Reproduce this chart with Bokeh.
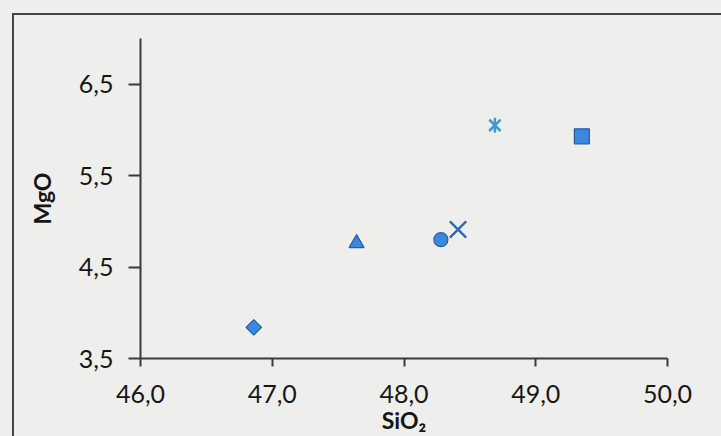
import math
from bokeh.plotting import figure
from bokeh.models import FixedTicker, Range1d, InlineStyleSheet
from bokeh.embed import file_html
from bokeh.resources import INLINE

# data (SiO2 vs MgO)
diamond_x, diamond_y = [46.86], [3.84]
triangle_x, triangle_y = [47.64], [4.76]
circle_x, circle_y = [48.28], [4.80]
cross_x, cross_y = [48.41], [4.91]
aster_x, aster_y = [48.69], [6.05]
square_x, square_y = [49.35], [5.93]

x_ticks = [46.0, 47.0, 48.0, 49.0, 50.0]
x_labels = ["46,0", "47,0", "48,0", "49,0", "50,0"]
y_ticks = [3.5, 4.5, 5.5, 6.5]
y_labels = ["3,5", "4,5", "5,5", "6,5"]

PAPER = "#eeeeec"
AX = "#3a3a3a"
FILL = "#3a89df"
EDGE = "#2a5c9c"
FONT = "Lato"

p = figure(width=721, height=436, output_backend="svg", toolbar_location=None,
           x_range=Range1d(46.0, 50.0), y_range=Range1d(3.5, 7.0),
           min_border_left=140, min_border_right=54, min_border_top=38, min_border_bottom=77)
p.background_fill_color = PAPER
p.border_fill_color = PAPER
p.outline_line_color = None
p.grid.visible = False

for ax, ticks, labels in ((p.xaxis[0], x_ticks, x_labels), (p.yaxis[0], y_ticks, y_labels)):
    ax.ticker = FixedTicker(ticks=ticks)
    ax.major_label_overrides = dict(zip(ticks, labels))
    ax.minor_tick_line_color = None
    ax.major_tick_in = 0
    ax.axis_line_color = AX
    ax.axis_line_width = 2
    ax.major_tick_line_color = AX
    ax.major_tick_line_width = 2
    ax.major_label_text_font = FONT
    ax.major_label_text_font_size = "25px"
    ax.major_label_text_color = "#161616"
    ax.axis_label_text_font = FONT
    ax.axis_label_text_font_size = "23px"
    ax.axis_label_text_font_style = "bold"
    ax.axis_label_text_color = "#161616"

p.xaxis.axis_label = "SiO₂"
p.yaxis.axis_label = "MgO"
p.xaxis.major_tick_out = 8
p.yaxis.major_tick_out = 12
p.xaxis.major_label_standoff = 18
p.xaxis.axis_label_standoff = 0
p.yaxis.major_label_standoff = 15
p.yaxis.axis_label_standoff = 20

p.scatter(diamond_x, diamond_y, marker="square", angle=math.pi / 4, size=11,
          fill_color=FILL, line_color=EDGE, line_width=1.2)
p.scatter(triangle_x, triangle_y, marker="triangle", size=15, fill_color=FILL, line_color=EDGE, line_width=1.2)
p.scatter(circle_x, circle_y, marker="circle", size=14, fill_color=FILL, line_color=EDGE, line_width=1.2)
p.scatter(cross_x, cross_y, marker="x", size=23, line_color="#2f68b0", line_width=2.4)
p.scatter(aster_x, aster_y, marker="x", size=16, line_color="#3d9ad0", line_width=2.6)
p.scatter(aster_x, aster_y, marker="dash", angle=math.pi / 2, size=15, line_color="#3d9ad0", line_width=2.4)
p.scatter(square_x, square_y, marker="square", size=15, fill_color=FILL, line_color=EDGE, line_width=1.2)

p.stylesheets = [InlineStyleSheet(css="""
:host { position: relative; }
:host::after { content: ''; position: absolute; left: 12px; top: 13px; right: 0; bottom: 0;
  border-left: 2px solid #444; border-top: 2px solid #444; pointer-events: none; }
""")]

html = file_html(p, INLINE)
html = html.replace("<head>", "<head><style>html,body{margin:0;padding:0;background:#eeeeec;overflow:hidden;}</style>", 1)
open("out.html", "w").write(html)
